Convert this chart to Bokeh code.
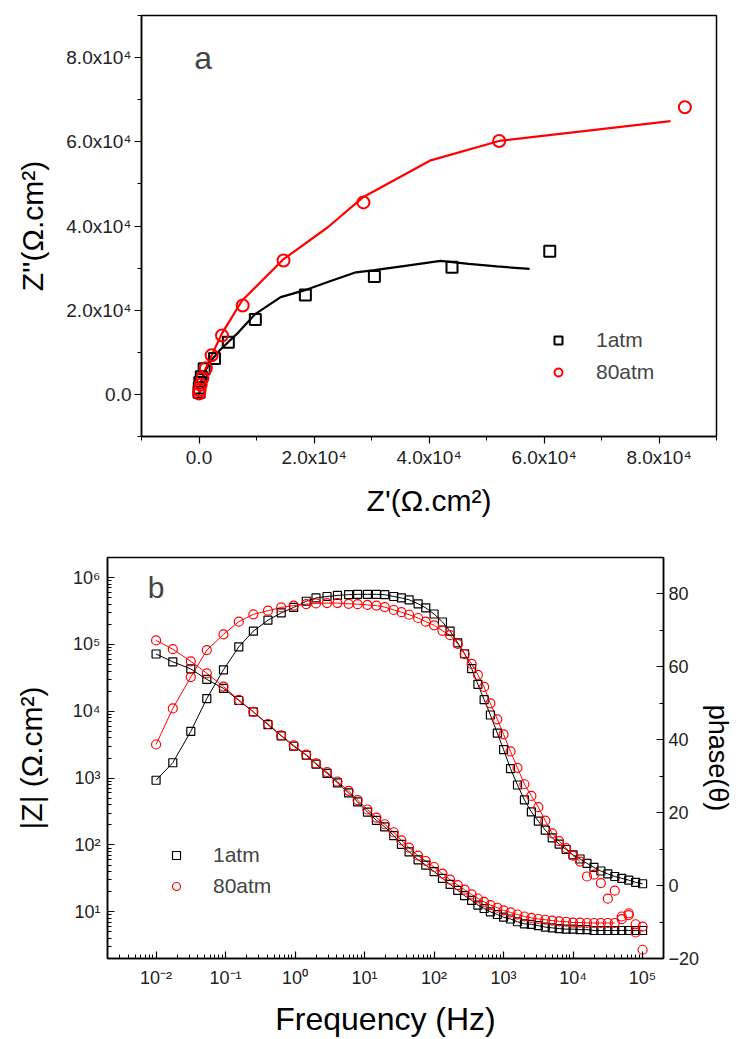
from bokeh.plotting import figure
from bokeh.layouts import column
from bokeh.models import (Range1d, LinearScale, LinearAxis, Legend, LegendItem, Label,
                          SingleIntervalTicker, CustomJSTickFormatter)
from bokeh.embed import file_html
from bokeh.resources import INLINE

# ---------------- data: panel a (Nyquist) ----------------
NYQ_1ATM_RE = [61000, 44000, 30500, 18500, 9800, 5100, 2700, 900, 400, 150, 50, 10]
NYQ_1ATM_IM = [34000, 30200, 28000, 23600, 17800, 12400, 8500, 6100, 4200, 2800, 1500, 500]
NYQ_80ATM_RE = [84500, 52200, 28600, 14700, 7600, 4000, 2200, 1200, 600, 300, 100, 20]
NYQ_80ATM_IM = [68200, 60200, 45600, 31800, 21100, 14000, 9300, 6200, 3900, 2300, 1000, 200]
FIT_1ATM_RE = [0, 300, 1000, 2000, 3600, 6900, 9700, 14200, 18300, 22400, 27300, 30500,
               36200, 42000, 46900, 51800, 57500]
FIT_1ATM_IM = [0, 2800, 5400, 7800, 10500, 14800, 19000, 23100, 24700, 26700, 29000, 29500,
               30600, 31700, 31000, 30400, 29800]
FIT_80ATM_RE = [0, 300, 1000, 2200, 4000, 7500, 14600, 22400, 28600, 40300, 52200, 82000]
FIT_80ATM_IM = [0, 2500, 5700, 9300, 14500, 22300, 32000, 39700, 46900, 55600, 60200, 64900]

# ---------------- data: panel b (Bode) ----------------
FREQ = [0.01, 0.0174, 0.0316, 0.0537, 0.0933, 0.155, 0.251, 0.407, 0.631, 0.955,
        1.45, 2.00, 2.88, 4.07, 5.89, 7.94, 11.0, 14.8, 19.5, 26.3,
        33.9, 43.7, 58.9, 75.9, 100, 132, 170, 219, 275, 347,
        427, 525, 646, 813, 1000, 1259, 1585, 1995, 2512, 3162,
        3981, 5012, 6310, 7943, 10000, 12589, 15849, 19953, 25119, 31623,
        39811, 50119, 63096, 79433, 100000]
ZMOD_1ATM = [72000, 55000, 43000, 30000, 22000, 14500, 9800, 6300, 4300, 3000,
             2200, 1620, 1180, 850, 600, 440, 310, 234, 186, 138,
             102, 79, 60, 50, 40, 31.6, 25.7, 20.9, 17.4, 14.8,
             12.6, 11.2, 10.0, 9.1, 8.3, 7.8, 7.1, 6.6, 6.5, 6.2,
             5.9, 5.75, 5.6, 5.5, 5.5, 5.4, 5.4, 5.25, 5.25, 5.25,
             5.25, 5.25, 5.25, 5.25, 5.25]
ZMOD_80ATM = [115000, 85000, 56000, 37000, 23400, 14800, 9800, 6450, 4360, 3090,
              2240, 1660, 1230, 890, 645, 468, 339, 257, 204, 155,
              117, 91, 69, 57.5, 46.8, 37.2, 30.2, 25.1, 21.4, 18.2,
              15.8, 14.1, 12.6, 11.5, 10.5, 9.8, 9.1, 8.5, 8.1, 7.8,
              7.6, 7.4, 7.2, 7.1, 6.9, 6.9, 6.8, 6.8, 6.8, 6.8,
              6.8, 8.5, 9.5, 4.9, 6.0]
PHASE_1ATM = [28.9, 33.7, 42.3, 51.3, 59.2, 65.5, 69.8, 72.8, 74.8, 76.3,
              78.0, 78.9, 79.3, 79.6, 79.8, 79.9, 79.9, 79.9, 79.8, 79.3,
              78.9, 78.4, 77.3, 76.2, 74.5, 72.3, 69.8, 66.6, 63.6, 59.5,
              55.2, 51.0, 46.8, 41.8, 37.3, 32.1, 27.6, 23.5, 20.2, 17.7,
              15.2, 13.1, 11.4, 9.9, 8.4, 7.3, 6.1, 5.0, 4.0, 3.2,
              2.5, 2.0, 1.5, 0.9, 0.5]
PHASE_80ATM = [38.7, 48.6, 57.2, 64.6, 68.9, 72.4, 74.4, 75.4, 76.3, 76.8,
               77.2, 77.4, 77.5, 77.5, 77.3, 77.2, 77.0, 76.8, 76.4, 75.6,
               75.0, 74.3, 73.4, 72.4, 71.4, 69.9, 68.7, 66.3, 63.5, 60.8,
               57.8, 54.5, 50.0, 45.6, 41.5, 36.8, 32.3, 27.8, 24.6, 21.5,
               17.8, 14.3, 12.2, 10.3, 8.2, 6.6, 2.5, 3.0, 0.7, -3.6,
               -1.4, -9.2, -8.1, -10.6, -17.6]
FIT80_PHASE_N = 46   # smooth fit line follows the data up to ~1e4 Hz
FIT80_ZMOD_N = 51

SERIES = ["1atm", "80atm"]
FONT = "Liberation Sans"
RED = "#ff0000"


def style_axis(ax, label_size, tick_size, standoff, inward=False, label_standoff=3):
    ax.axis_label_text_font = FONT
    ax.axis_label_text_font_style = "normal"
    ax.axis_label_text_font_size = label_size
    ax.axis_label_text_color = "black"
    ax.axis_label_standoff = standoff
    ax.major_label_text_font = FONT
    ax.major_label_text_font_size = tick_size
    ax.major_label_text_color = "#222222"
    ax.major_label_standoff = label_standoff
    if inward:
        ax.major_tick_in, ax.major_tick_out = 7, 0
        ax.minor_tick_in, ax.minor_tick_out = 4, 0
    else:
        ax.major_tick_in, ax.major_tick_out = 0, 7
        ax.minor_tick_in, ax.minor_tick_out = 0, 4
    ax.axis_line_width = 1.5
    ax.major_tick_line_width = 1.2
    ax.minor_tick_line_width = 1.0


sci_fmt = CustomJSTickFormatter(code="""
if (Math.abs(tick) < 1e-9) { return "0.0"; }
return (tick / 1e4).toFixed(1) + "x10\u2074";
""")

log_fmt = CustomJSTickFormatter(code="""
const e = Math.round(Math.log10(tick));
const sup = {"-": "\u207b", "0": "\u2070", "1": "\u00b9", "2": "\u00b2", "3": "\u00b3",
             "4": "\u2074", "5": "\u2075", "6": "\u2076", "7": "\u2077", "8": "\u2078", "9": "\u2079"};
return "10" + String(e).split("").map(c => sup[c]).join("");
""")

# ---------------- panel a ----------------
p1 = figure(width=736, height=520, output_backend="svg", toolbar_location=None,
            x_range=Range1d(-10000, 90000), y_range=Range1d(-10000, 90000),
            min_border_left=141, min_border_right=20, min_border_top=15, min_border_bottom=84)
p1.frame_align = False
p1.grid.visible = False
p1.outline_line_color = "black"
p1.outline_line_width = 1.5
p1.background_fill_color = "white"
p1.border_fill_color = "white"
for ax in (p1.xaxis[0], p1.yaxis[0]):
    ax.ticker = SingleIntervalTicker(interval=20000, num_minor_ticks=2)
    ax.formatter = sci_fmt
p1.xaxis.axis_label = "Z'(\u03a9.cm\u00b2)"
p1.yaxis.axis_label = "Z''(\u03a9.cm\u00b2)"
style_axis(p1.xaxis[0], "30px", "19px", 13)
style_axis(p1.yaxis[0], "30px", "19px", 14)

p1.line(FIT_1ATM_RE, FIT_1ATM_IM, line_color="black", line_width=2.2)
p1.line(FIT_80ATM_RE, FIT_80ATM_IM, line_color=RED, line_width=2.2)
a1 = p1.scatter(NYQ_1ATM_RE, NYQ_1ATM_IM, marker="square", size=11, fill_color=None,
                line_color="black", line_width=2)
a2 = p1.scatter(NYQ_80ATM_RE, NYQ_80ATM_IM, marker="circle", size=12, fill_color=None,
                line_color=RED, line_width=2)
leg1 = Legend(items=[LegendItem(label=SERIES[0], renderers=[a1]),
                     LegendItem(label=SERIES[1], renderers=[a2])],
              location=(407, 52), padding=0, margin=0, spacing=8,
              glyph_width=20, glyph_height=24, label_standoff=28,
              label_text_font=FONT, label_text_font_size="21px",
              border_line_color=None, background_fill_alpha=0)
p1.add_layout(leg1)
p1.add_layout(Label(x=700, y=80000, text="a", text_font=FONT, text_font_size="32px",
                    text_align="center", text_baseline="middle"))

# ---------------- panel b ----------------
p2 = figure(width=736, height=519, output_backend="svg", toolbar_location=None,
            x_axis_type="log", y_axis_type="log",
            x_range=Range1d(0.002, 2e5), y_range=Range1d(2, 2e6),
            min_border_left=107, min_border_right=73, min_border_top=37, min_border_bottom=77)
p2.frame_align = False
p2.grid.visible = False
p2.outline_line_color = "black"
p2.outline_line_width = 1.5
p2.background_fill_color = "white"
p2.border_fill_color = "white"
p2.extra_y_ranges = {"phase": Range1d(-20, 90)}
p2.extra_y_scales = {"phase": LinearScale()}
p2.xaxis.formatter = log_fmt
p2.yaxis.formatter = log_fmt
p2.xaxis.axis_label = "Frequency (Hz)"
p2.yaxis.axis_label = "|Z| (\u03a9.cm\u00b2)"
style_axis(p2.xaxis[0], "32px", "18px", 10, inward=True, label_standoff=9)
style_axis(p2.yaxis[0], "30px", "18px", 22, inward=True, label_standoff=7)
rax = LinearAxis(y_range_name="phase", axis_label="phase(\u03b8)",
                 ticker=SingleIntervalTicker(interval=20, num_minor_ticks=2))
style_axis(rax, "27px", "18px", 1, inward=True, label_standoff=5)
p2.add_layout(rax, "right")

p2.line(FREQ, ZMOD_1ATM, line_color="black", line_width=1)
p2.line(FREQ, PHASE_1ATM, line_color="black", line_width=1, y_range_name="phase")
p2.line(FREQ[:FIT80_ZMOD_N], ZMOD_80ATM[:FIT80_ZMOD_N], line_color=RED, line_width=1)
p2.line(FREQ[:FIT80_PHASE_N], PHASE_80ATM[:FIT80_PHASE_N], line_color=RED, line_width=1,
        y_range_name="phase")
b1 = p2.scatter(FREQ, ZMOD_1ATM, marker="square", size=8, fill_color=None,
                line_color="black", line_width=1.2)
p2.scatter(FREQ, PHASE_1ATM, marker="square", size=8, fill_color=None,
           line_color="black", line_width=1.2, y_range_name="phase")
b2 = p2.scatter(FREQ, ZMOD_80ATM, marker="circle", size=9, fill_color=None,
                line_color=RED, line_width=1.2)
p2.scatter(FREQ, PHASE_80ATM, marker="circle", size=9, fill_color=None,
           line_color=RED, line_width=1.2, y_range_name="phase")
leg2 = Legend(items=[LegendItem(label=SERIES[0], renderers=[b1]),
                     LegendItem(label=SERIES[1], renderers=[b2])],
              location=(59, 60), padding=0, margin=0, spacing=7,
              glyph_width=20, glyph_height=24, label_standoff=27,
              label_text_font=FONT, label_text_font_size="21px",
              border_line_color=None, background_fill_alpha=0)
p2.add_layout(leg2)
p2.add_layout(Label(x=0.01, y=7.2e5, text="b", text_font=FONT, text_font_size="30px",
                    text_align="center", text_baseline="middle"))

layout = column(p1, p2, spacing=0)
with open("out.html", "w", encoding="utf-8") as f:
    f.write(file_html(layout, INLINE))
